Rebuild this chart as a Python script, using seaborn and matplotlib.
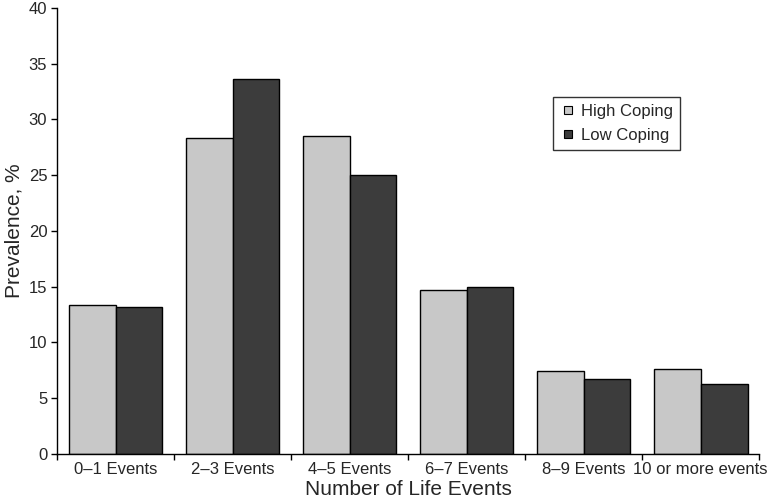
import pandas as pd
import matplotlib
matplotlib.use('Agg')
import matplotlib.pyplot as plt
from matplotlib.lines import Line2D
import seaborn as sns

categories = ['0–1 Events', '2–3 Events', '4–5 Events', '6–7 Events', '8–9 Events', '10 or more events']
high_coping = [13.4, 28.3, 28.5, 14.7, 7.4, 7.6]
low_coping = [13.2, 33.6, 25.0, 15.0, 6.7, 6.3]
groups = ['High Coping', 'Low Coping']
colors = {'High Coping': '#c8c8c8', 'Low Coping': '#3c3c3c'}

df = pd.DataFrame({
    'Events': categories * 2,
    'Prevalence': high_coping + low_coping,
    'Group': ['High Coping'] * len(categories) + ['Low Coping'] * len(categories),
})

sns.set_style('ticks')
plt.rcParams['font.family'] = ['Liberation Sans', 'DejaVu Sans']

fig = plt.figure(figsize=(7.7, 5.03), dpi=100)
ax = fig.add_axes([0.074, 0.0974, 0.912, 0.887])

sns.barplot(data=df, x='Events', y='Prevalence', hue='Group', order=categories,
            hue_order=groups, palette=colors, width=0.8, gap=0,
            edgecolor='black', linewidth=1.0, saturation=1, ax=ax, legend=False)

ax.set_ylim(0, 40)
ax.set_yticks(range(0, 41, 5))
ax.set_xlim(-0.5, len(categories) - 0.5)
ax.set_xticks([i - 0.5 for i in range(len(categories) + 1)], minor=True)
ax.tick_params(axis='x', which='major', length=0, labelsize=12, pad=6)
ax.tick_params(axis='x', which='minor', length=4, width=1, color='black', direction='out')
ax.tick_params(axis='y', length=4, width=1, color='black', labelsize=12, pad=3)

for s in ['top', 'right']:
    ax.spines[s].set_visible(False)
for s in ['left', 'bottom']:
    ax.spines[s].set_color('black')
    ax.spines[s].set_linewidth(1.0)

ax.set_xlabel('Number of Life Events', fontsize=15, labelpad=2)
ax.set_ylabel('Prevalence, %', fontsize=15, labelpad=4)

handles = [Line2D([], [], marker='s', linestyle='none', markersize=6,
                  markerfacecolor=colors[g], markeredgecolor='black', markeredgewidth=0.8)
           for g in groups]
leg = ax.legend(handles, groups, loc='upper left', bbox_to_anchor=(0.706, 0.80),
                borderaxespad=0, frameon=True, fancybox=False, fontsize=12,
                handlelength=1.0, handletextpad=0.3, borderpad=0.4, labelspacing=0.55)
leg.get_frame().set_edgecolor('black')
leg.get_frame().set_linewidth(1.0)

fig.savefig('out.png', dpi=100)
